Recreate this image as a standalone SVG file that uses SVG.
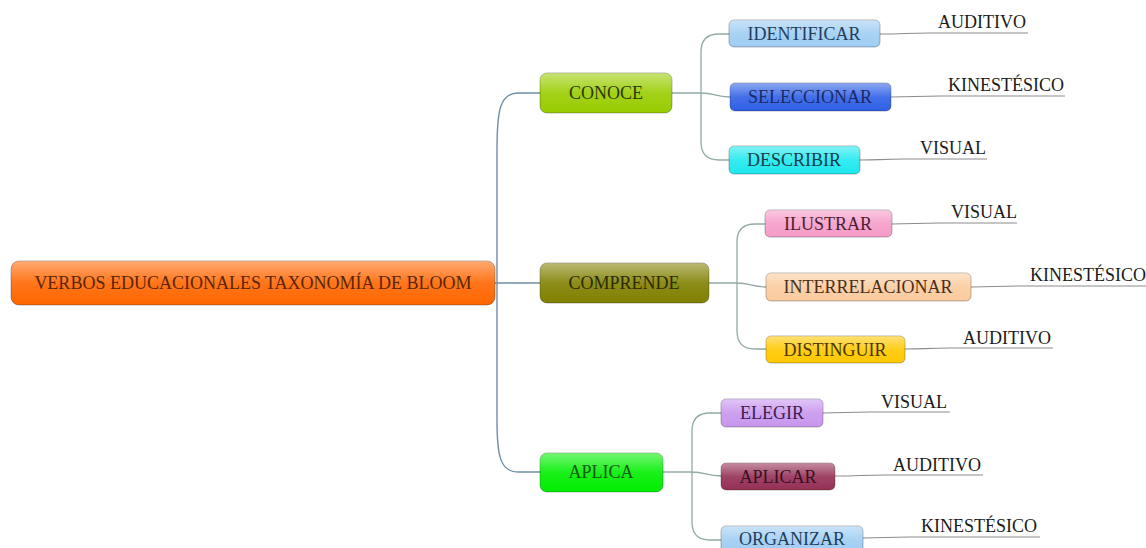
<svg xmlns="http://www.w3.org/2000/svg" width="1146" height="548" viewBox="0 0 1146 548">
<style>
text{font-family:'Liberation Serif','DejaVu Serif',serif;font-size:18px;text-anchor:middle}
.lbl{fill:#1a1a1a;text-anchor:start}
.box{stroke:#000;stroke-opacity:0.28;stroke-width:1}
.trunk{fill:none;stroke:#6e8ea6;stroke-width:1.4}
.branch{fill:none;stroke:#93aaa6;stroke-width:1.3}
.uline{fill:none;stroke:#8c8c8c;stroke-width:1.2}
</style>
<defs>
<linearGradient id="gloss" x1="0" y1="0" x2="0" y2="1">
<stop offset="0" stop-color="#fff" stop-opacity="0.45"/>
<stop offset="0.5" stop-color="#fff" stop-opacity="0.1"/>
<stop offset="1" stop-color="#fff" stop-opacity="0"/>
</linearGradient>
</defs>
<rect width="1146" height="548" fill="#fff"/>
<g id="connectors">
<path class="trunk" d="M495,283 L540,283"/>
<path class="trunk" d="M497,283 L497,150 C497,110 500,93 518,93 L540,93"/>
<path class="trunk" d="M497,283 L497,420 C497,455 500,472 518,472 L540,472"/>
<path class="branch" d="M672,93 L701,93 M701,93 L701,52 Q701,34 719,34 L729,34 M701,93 C715,93 715,97 730,97 M701,93 L701,142 Q701,160 719,160 L729,160"/>
<path class="branch" d="M709,283 L737,283 M737,283 L737,242 Q737,224 755,224 L766,224 M737,283 C750,283 752,287 766,287 M737,283 L737,331 Q737,349 755,349 L766,349"/>
<path class="branch" d="M663,472 L692,472 M692,472 L692,431 Q692,413 710,413 L721,413 M692,472 C705,472 707,476 721,476 M692,472 L692,522 Q692,540 710,540 L721,540"/>
<path class="uline" d="M880,34 C905,34 905,33 930,33 L1028,33"/>
<path class="uline" d="M891,97 C915,97 915,96 940,96 L1065,96"/>
<path class="uline" d="M860,160 C880,160 880,159 905,159 L987,159"/>
<path class="uline" d="M892,224 C915,224 915,223 940,223 L1017,223"/>
<path class="uline" d="M971,287 C995,287 995,286 1020,286 L1146,286"/>
<path class="uline" d="M905,349 C925,349 925,348 950,348 L1053,348"/>
<path class="uline" d="M823,413 C845,413 845,412 870,412 L950,412"/>
<path class="uline" d="M835,476 C860,476 860,475 885,475 L983,475"/>
<path class="uline" d="M863,538 C885,538 885,537 910,537 L1040,537"/>
</g>
<g id="root">
<rect class="box" x="11" y="261" width="484" height="44" rx="8" fill="#ff6600"/>
<rect x="11" y="261" width="484" height="44" rx="8" fill="url(#gloss)"/>
<text x="253" y="289" fill="#5a2508">VERBOS EDUCACIONALES TAXONOMÍA DE BLOOM</text>
</g>
<g id="conoce">
<rect class="box" x="540" y="73" width="132" height="40" rx="7" fill="#99cc00"/>
<rect x="540" y="73" width="132" height="40" rx="7" fill="url(#gloss)"/>
<text x="606" y="99" fill="#2a3a00">CONOCE</text>
</g>
<g id="comprende">
<rect class="box" x="540" y="263" width="169" height="40" rx="7" fill="#808000"/>
<rect x="540" y="263" width="169" height="40" rx="7" fill="url(#gloss)"/>
<text x="624" y="289" fill="#2b2b00">COMPRENDE</text>
</g>
<g id="aplica">
<rect class="box" x="540" y="453" width="123" height="39" rx="7" fill="#00ee00"/>
<rect x="540" y="453" width="123" height="39" rx="7" fill="url(#gloss)"/>
<text x="601" y="478" fill="#125a12">APLICA</text>
</g>
<g id="identificar">
<rect class="box" x="729" y="20" width="151" height="27" rx="5" fill="#9fcdf2"/>
<rect x="729" y="20" width="151" height="27" rx="5" fill="url(#gloss)"/>
<text x="804" y="40" fill="#1f3d5e">IDENTIFICAR</text>
<text class="lbl" x="938" y="28">AUDITIVO</text>
</g>
<g id="seleccionar">
<rect class="box" x="730" y="83" width="161" height="28" rx="5" fill="#2f5fe6"/>
<rect x="730" y="83" width="161" height="28" rx="5" fill="url(#gloss)"/>
<text x="810" y="103" fill="#1a2a66">SELECCIONAR</text>
<text class="lbl" x="948" y="91">KINESTÉSICO</text>
</g>
<g id="describir">
<rect class="box" x="729" y="146" width="131" height="28" rx="5" fill="#1ee8ee"/>
<rect x="729" y="146" width="131" height="28" rx="5" fill="url(#gloss)"/>
<text x="794" y="166" fill="#1a3d4a">DESCRIBIR</text>
<text class="lbl" x="920" y="154">VISUAL</text>
</g>
<g id="ilustrar">
<rect class="box" x="765" y="210" width="127" height="27" rx="5" fill="#f59cc8"/>
<rect x="765" y="210" width="127" height="27" rx="5" fill="url(#gloss)"/>
<text x="828" y="230" fill="#4a1e30">ILUSTRAR</text>
<text class="lbl" x="951" y="218">VISUAL</text>
</g>
<g id="interrelacionar">
<rect class="box" x="766" y="273" width="205" height="28" rx="5" fill="#fbcb9e"/>
<rect x="766" y="273" width="205" height="28" rx="5" fill="url(#gloss)"/>
<text x="868" y="293" fill="#4a2e18">INTERRELACIONAR</text>
<text class="lbl" x="1030" y="281">KINESTÉSICO</text>
</g>
<g id="distinguir">
<rect class="box" x="766" y="336" width="139" height="27" rx="5" fill="#ffc800"/>
<rect x="766" y="336" width="139" height="27" rx="5" fill="url(#gloss)"/>
<text x="835" y="356" fill="#4a3500">DISTINGUIR</text>
<text class="lbl" x="963" y="344">AUDITIVO</text>
</g>
<g id="elegir">
<rect class="box" x="721" y="399" width="102" height="28" rx="5" fill="#c896ee"/>
<rect x="721" y="399" width="102" height="28" rx="5" fill="url(#gloss)"/>
<text x="772" y="419" fill="#3a2050">ELEGIR</text>
<text class="lbl" x="881" y="408">VISUAL</text>
</g>
<g id="aplicar">
<rect class="box" x="721" y="463" width="114" height="27" rx="5" fill="#952f55"/>
<rect x="721" y="463" width="114" height="27" rx="5" fill="url(#gloss)"/>
<text x="778" y="483" fill="#3a0f1f">APLICAR</text>
<text class="lbl" x="893" y="471">AUDITIVO</text>
</g>
<g id="organizar">
<rect class="box" x="721" y="526" width="142" height="28" rx="5" fill="#9fcdf2"/>
<rect x="721" y="526" width="142" height="28" rx="5" fill="url(#gloss)"/>
<text x="792" y="545" fill="#1f3d5e">ORGANIZAR</text>
<text class="lbl" x="921" y="532">KINESTÉSICO</text>
</g>
</svg>
